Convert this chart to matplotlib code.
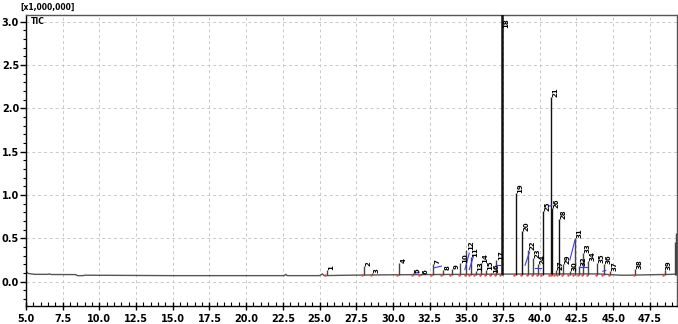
import matplotlib
matplotlib.use('Agg')

import matplotlib.pyplot as plt
import numpy as np
from matplotlib.ticker import MultipleLocator, FormatStrFormatter

# baseline of the TIC trace (retention time in min, intensity x1,000,000)
base_time = [5.0, 5.15, 5.6, 6.5, 6.6, 6.7, 8.4, 8.5, 8.9, 9.0, 15.0, 22.6, 22.7, 22.8,
             25.0, 25.2, 25.3, 27.0, 30.0, 35.0, 40.0, 44.0, 45.5, 46.0, 47.5, 49.0, 49.35]
base_level = [0.12, 0.095, 0.085, 0.085, 0.09, 0.083, 0.082, 0.07, 0.07, 0.075, 0.07, 0.07, 0.085, 0.07,
              0.07, 0.09, 0.07, 0.075, 0.08, 0.085, 0.09, 0.09, 0.075, 0.075, 0.08, 0.085, 0.09]

# integrated peaks
peak_time = [25.5, 28.0, 28.6, 30.4, 31.4, 31.9, 32.7, 33.4, 34.0, 34.6,
             35.3, 35.0, 35.65, 36.0, 36.35, 36.7, 37.05, 37.4, 38.35, 38.8,
             40.75, 39.2, 39.55, 39.9, 40.2, 40.85, 41.1, 41.3, 41.6, 42.05,
             42.4, 42.7, 42.95, 43.3, 43.9, 44.35, 44.8, 46.5, 48.5]
peak_height = [0.13, 0.18, 0.10, 0.22, 0.10, 0.09, 0.20, 0.14, 0.15, 0.22,
               0.28, 0.37, 0.12, 0.22, 0.14, 0.10, 0.25, 3.50, 1.02, 0.59,
               2.13, 0.37, 0.27, 0.20, 0.81, 0.85, 0.13, 0.72, 0.20, 0.12,
               0.50, 0.18, 0.33, 0.24, 0.22, 0.20, 0.12, 0.15, 0.13]
peak_label = [str(i) for i in range(1, 40)]

# unlabeled peaks at the end of the run
end_time = [49.2, 49.28]
end_height = [0.46, 0.56]

# manual baselines drawn by the integrator (t0, h0, t1, h1)
blue_segments = [(31.5, 0.10, 31.8, 0.11), (32.8, 0.16, 33.3, 0.18), (34.9, 0.14, 35.2, 0.33),
                 (35.2, 0.14, 35.5, 0.30), (37.0, 0.19, 37.3, 0.19), (39.0, 0.19, 39.3, 0.34),
                 (39.7, 0.16, 40.1, 0.16), (40.6, 0.87, 40.8, 0.88), (42.05, 0.25, 42.4, 0.48),
                 (42.7, 0.17, 43.2, 0.17), (44.3, 0.12, 44.5, 0.13)]

peak_floor = 0.08
narrow = ['Liberation Sans Narrow', 'DejaVu Sans']

fig = plt.figure(figsize=(6.78, 3.24), dpi=100)
ax = fig.add_axes([0.0383, 0.0556, 0.9602, 0.8966])

ax.plot(base_time, base_level, color='#555555', linewidth=1.0, zorder=2)

for t, h, lab in zip(peak_time, peak_height, peak_label):
    lw = 1.8 if h > 3 else 1.0
    col = '#111111' if h > 0.5 else '#444444'
    ax.vlines(t, peak_floor, h, color=col, linewidth=lw, zorder=3)
    ax.text(t + 0.1, min(h, 2.93), lab, rotation=90, ha='left', va='bottom',
            fontsize=5, fontweight='bold', color='black', zorder=5, family=narrow)
    ax.plot([t - 0.1], [peak_floor], linestyle='none', marker='.',
            color='#ff4040', markersize=1.5, zorder=4)

for t, h in zip(end_time, end_height):
    ax.vlines(t, peak_floor, h, color='#444444', linewidth=1.0, zorder=3)

for t0, h0, t1, h1 in blue_segments:
    ax.plot([t0, t1], [h0, h1], color='#3a3aff', linewidth=0.8, zorder=4)

ax.set_xlim(5.0, 49.35)
ax.set_ylim(-0.28, 3.07)

ax.xaxis.set_major_locator(MultipleLocator(2.5))
ax.xaxis.set_minor_locator(MultipleLocator(0.5))
ax.yaxis.set_major_locator(MultipleLocator(0.5))
ax.yaxis.set_minor_locator(MultipleLocator(0.1))
ax.xaxis.set_major_formatter(FormatStrFormatter('%.1f'))
ax.yaxis.set_major_formatter(FormatStrFormatter('%.1f'))

ax.tick_params(axis='x', which='major', direction='inout', length=6, width=1, pad=3)
ax.tick_params(axis='x', which='minor', direction='in', length=3, width=0.8)
ax.tick_params(axis='y', which='major', direction='out', length=4, width=1, pad=1)
ax.tick_params(axis='y', which='minor', direction='out', length=2, width=0.8)
for lbl in ax.get_xticklabels() + ax.get_yticklabels():
    lbl.set_fontsize(7)
    lbl.set_fontweight('bold')
    lbl.set_family(narrow)

ax.grid(True, which='major', color='#c8c8c8', linestyle=(0, (3, 3)), linewidth=0.7, zorder=0)

ax.spines['left'].set_color('black')
ax.spines['bottom'].set_color('black')
ax.spines['top'].set_color('#555555')
ax.spines['right'].set_color('#555555')
for s in ax.spines.values():
    s.set_linewidth(1.0)

fig.text(0.030, 0.962, '[x1,000,000]', fontsize=5.5, fontweight='bold', ha='left', va='bottom',
         family=narrow)
ax.text(0.008, 0.995, 'TIC', transform=ax.transAxes, fontsize=5.5, fontweight='bold',
        ha='left', va='top', family=narrow)

plt.savefig('out.png', dpi=100)
